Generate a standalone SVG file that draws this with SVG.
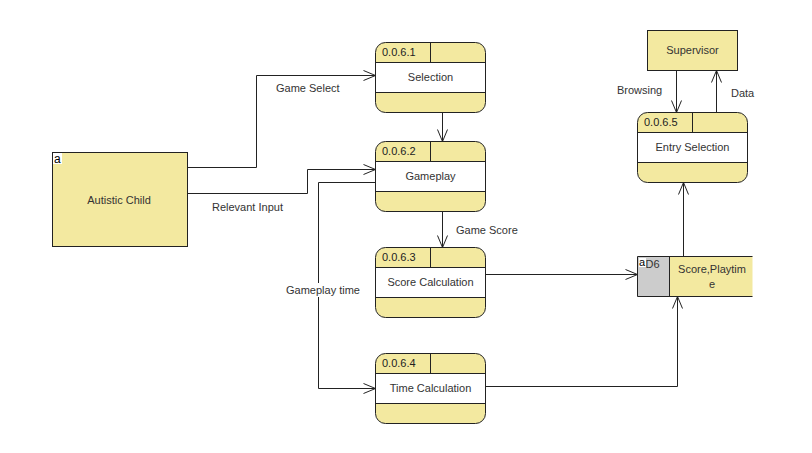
<svg xmlns="http://www.w3.org/2000/svg" width="812" height="453" viewBox="0 0 812 453">
<style>
text{font-family:"Liberation Sans",Arial,sans-serif;font-size:11px;fill:#333}
.c{text-anchor:middle}
.id{fill:#222}
.y{fill:#F3E9A0;stroke:#222;stroke-width:1}
.w{fill:#fff;stroke:#222;stroke-width:1}
.ln{fill:none;stroke:#222;stroke-width:1}
.conn path{fill:none;stroke:#222;stroke-width:1;marker-end:url(#ar)}
</style>
<defs>
<marker id="ar" markerUnits="userSpaceOnUse" markerWidth="14" markerHeight="12" refX="12" refY="6" orient="auto" overflow="visible">
<path d="M0,1 L12,6 L0,11" fill="none" stroke="#222" stroke-width="1"/>
</marker>
</defs>
<rect width="812" height="453" fill="#fff"/>

<g id="autistic-child">
<rect class="y" x="52.5" y="152.5" width="135" height="94"/>
<rect x="53" y="153" width="9" height="11" fill="#fff"/>
<text x="54" y="162.5" style="font-size:12px;fill:#000">a</text>
<text class="c" x="119" y="204">Autistic Child</text>
</g>

<g id="p1">
<rect class="y" x="375.5" y="42.5" width="110" height="70" rx="10"/>
<rect class="w" x="375.5" y="62.5" width="110" height="30"/>
<line class="ln" x1="430.5" y1="42.5" x2="430.5" y2="62.5"/>
<text class="id" x="382" y="56">0.0.6.1</text>
<text class="c" x="430.5" y="81">Selection</text>
</g>

<g id="p2">
<rect class="y" x="375.5" y="141.5" width="110" height="70" rx="10"/>
<rect class="w" x="375.5" y="161.5" width="110" height="30"/>
<line class="ln" x1="430.5" y1="141.5" x2="430.5" y2="161.5"/>
<text class="id" x="382" y="155">0.0.6.2</text>
<text class="c" x="430.5" y="180">Gameplay</text>
</g>

<g id="p3">
<rect class="y" x="375.5" y="247.5" width="110" height="70" rx="10"/>
<rect class="w" x="375.5" y="267.5" width="110" height="30"/>
<line class="ln" x1="430.5" y1="247.5" x2="430.5" y2="267.5"/>
<text class="id" x="382" y="261">0.0.6.3</text>
<text class="c" x="430.5" y="286">Score Calculation</text>
</g>

<g id="p4">
<rect class="y" x="375.5" y="353.5" width="110" height="70" rx="10"/>
<rect class="w" x="375.5" y="373.5" width="110" height="30"/>
<line class="ln" x1="430.5" y1="353.5" x2="430.5" y2="373.5"/>
<text class="id" x="382" y="367">0.0.6.4</text>
<text class="c" x="430.5" y="392">Time Calculation</text>
</g>

<g id="p5">
<rect class="y" x="637.5" y="112.5" width="110" height="70" rx="10"/>
<rect class="w" x="637.5" y="132.5" width="110" height="30"/>
<line class="ln" x1="692.5" y1="112.5" x2="692.5" y2="132.5"/>
<text class="id" x="644" y="126">0.0.6.5</text>
<text class="c" x="692.5" y="151">Entry Selection</text>
</g>

<g id="supervisor">
<rect class="y" x="647.5" y="30.5" width="90" height="40"/>
<text class="c" x="692.5" y="54">Supervisor</text>
</g>

<g id="d6">
<rect x="637.5" y="256.5" width="32" height="40" fill="#CCCCCC"/>
<rect x="669.5" y="256.5" width="83" height="40" fill="#F3E9A0"/>
<path class="ln" d="M752.5,256.5 H637.5 V296.5 H752.5 M669.5,256.5 V296.5"/>
<rect x="639" y="258" width="7" height="9" fill="#fff"/>
<text x="639" y="266" style="font-size:11px;fill:#000">a</text>
<text x="645.5" y="268">D6</text>
<text class="c" x="712" y="273">Score,Playtim</text>
<text class="c" x="712" y="288">e</text>
</g>

<g id="connectors" class="conn">
<path d="M187.5,167.5 H256.5 V75.5 H375.5"/>
<path d="M187.5,193.5 H307.5 V169.5 H375.5"/>
<path d="M375.5,182.5 H318.5 V388.5 H375.5"/>
<path d="M442.5,112.5 V141.5"/>
<path d="M442.5,211.5 V247.5"/>
<path d="M485.5,274.5 H637.5"/>
<path d="M485.5,386.5 H677.5 V296.5"/>
<path d="M683.5,256.5 V182.5"/>
<path d="M676.5,70.5 V112.5"/>
<path d="M716.5,112.5 V70.5"/>
</g>

<g id="labels">
<text x="276" y="92">Game Select</text>
<text x="212" y="211">Relevant Input</text>
<rect x="285" y="283" width="74" height="14" fill="#fff"/>
<text x="286" y="294">Gameplay time</text>
<text x="456" y="234">Game Score</text>
<text x="617" y="94">Browsing</text>
<text x="731" y="97">Data</text>
</g>
</svg>
